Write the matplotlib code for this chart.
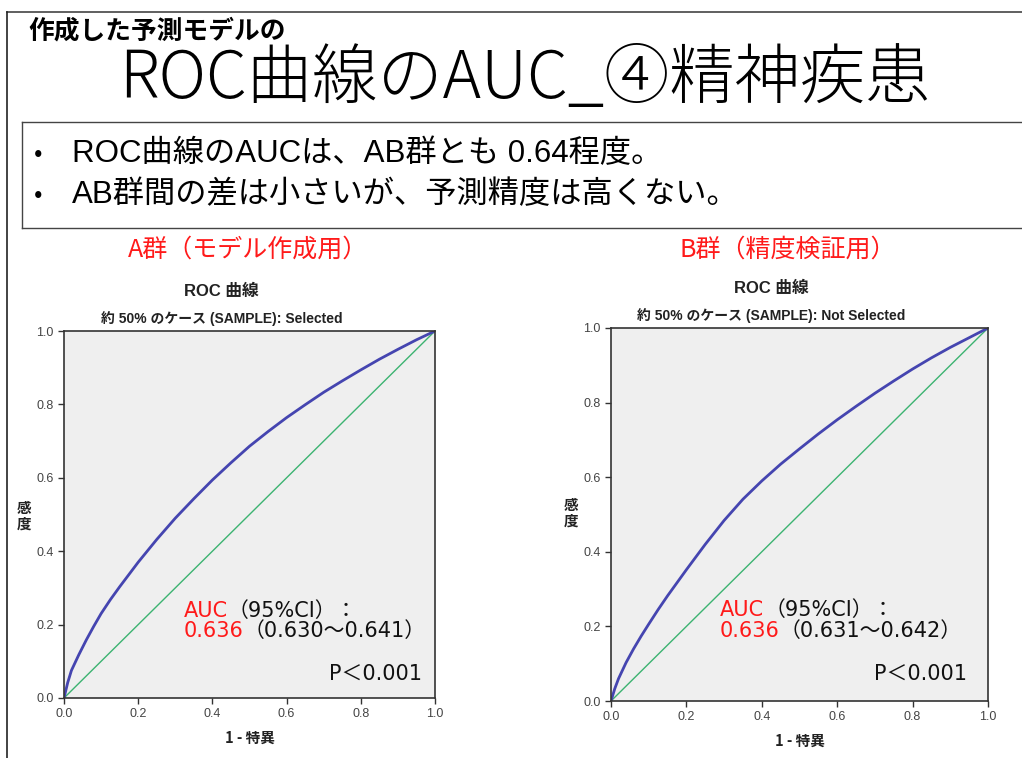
import numpy as np
import matplotlib
matplotlib.use('Agg')
from matplotlib import pyplot as plt
from matplotlib.lines import Line2D

plt.rcParams['font.family'] = ['Noto Sans CJK JP', 'DejaVu Sans']

W, H = 1022, 758

# ROC curves (1 - specificity, sensitivity)
fpr_a = [0.0, 0.01, 0.02, 0.04, 0.06, 0.08, 0.10, 0.125, 0.15, 0.20, 0.25, 0.30, 0.35,
         0.40, 0.45, 0.50, 0.55, 0.60, 0.65, 0.70, 0.75, 0.80, 0.85, 0.90, 0.95, 1.0]
tpr_a = [0.0, 0.042, 0.075, 0.118, 0.158, 0.195, 0.230, 0.268, 0.303, 0.370, 0.432, 0.490, 0.543,
         0.594, 0.641, 0.686, 0.726, 0.764, 0.799, 0.833, 0.864, 0.894, 0.923, 0.950, 0.976, 1.0]
fpr_b = [0.0, 0.01, 0.02, 0.04, 0.06, 0.08, 0.10, 0.125, 0.15, 0.20, 0.25, 0.30, 0.35,
         0.40, 0.45, 0.50, 0.55, 0.60, 0.65, 0.70, 0.75, 0.80, 0.85, 0.90, 0.95, 1.0]
tpr_b = [0.0, 0.033, 0.060, 0.103, 0.140, 0.174, 0.206, 0.245, 0.282, 0.352, 0.420, 0.484, 0.541,
         0.590, 0.635, 0.676, 0.716, 0.754, 0.790, 0.825, 0.858, 0.890, 0.920, 0.948, 0.974, 1.0]

ticks = [0.0, 0.2, 0.4, 0.6, 0.8, 1.0]
tick_labels = ['0.0', '0.2', '0.4', '0.6', '0.8', '1.0']

group_titles = ['A群（モデル作成用）', 'B群（精度検証用）']
subtitles = ['約 50% のケース (SAMPLE): Selected', '約 50% のケース (SAMPLE): Not Selected']
auc_values = ['0.636', '0.636']
ci_texts = ['（0.630～0.641）', '（0.631～0.642）']
bullets = ['ROC曲線のAUCは、AB群とも 0.64程度。', 'AB群間の差は小さいが、予測精度は高くない。']

# where the AUC notes sit inside each plot (axes fraction)
note_x = [0.323, 0.289]
note_y = [(0.221, 0.166), (0.228, 0.172)]
p_pos = [(0.965, 0.049), (0.944, 0.056)]

LATIN = ['DejaVu Sans', 'Noto Sans CJK JP']
ARIAL = ['Liberation Sans', 'Noto Sans CJK JP']


def px(x, y):
    return x / W, 1 - y / H


fig = plt.figure(figsize=(W / 100, H / 100), dpi=100)
fig.patch.set_facecolor('white')
renderer = fig.canvas.get_renderer()

# slide frame and bullet box
fig.add_artist(Line2D([7 / W, 1], [1 - 12 / H] * 2, color='#444444', lw=1.2))
fig.add_artist(Line2D([7 / W] * 2, [1 - 12 / H, 0], color='#222222', lw=1.2))
fig.add_artist(Line2D([22 / W, 1], [1 - 122 / H] * 2, color='#444444', lw=1.0))
fig.add_artist(Line2D([22 / W, 1], [1 - 228 / H] * 2, color='#444444', lw=1.0))
fig.add_artist(Line2D([22 / W] * 2, [1 - 122 / H, 1 - 228 / H], color='#444444', lw=1.0))

fig.text(*px(28, 31), '作成した予測モデルの', fontsize=18.5, fontweight='bold',
         va='center', ha='left')
fig.text(*px(525, 80), 'ROC曲線のAUC_④精神疾患', fontsize=47, fontweight='light',
         va='center', ha='center')

for i, b in enumerate(bullets):
    y = 154 + i * 41
    fig.text(*px(38, y), '•', fontsize=18, va='center', ha='center')
    fig.text(*px(72, y), b, fontsize=22.5, family=ARIAL, va='center', ha='left')

axes_pos = [(64, 331, 435, 698), (611, 328, 988, 701)]
title_x = [248, 788]
data = [(fpr_a, tpr_a), (fpr_b, tpr_b)]

for k in range(2):
    x0, y0, x1, y1 = axes_pos[k]
    ax = fig.add_axes([x0 / W, 1 - y1 / H, (x1 - x0) / W, (y1 - y0) / H])
    ax.set_facecolor('#efefef')
    fpr, tpr = data[k]
    ax.plot([0, 1], [0, 1], color='#3cb371', lw=1.0)
    ax.plot(fpr, tpr, color='#4545b0', lw=2.0)
    ax.set_xlim(0, 1)
    ax.set_ylim(0, 1)
    ax.set_xticks(ticks, tick_labels)
    ax.set_yticks(ticks, tick_labels)
    ax.tick_params(direction='out', length=4, width=1, colors='#333333',
                   labelsize=9, labelcolor='#444444')
    for lab in ax.get_xticklabels() + ax.get_yticklabels():
        lab.set_family(ARIAL)
    for s in ax.spines.values():
        s.set_color('#333333')
        s.set_linewidth(1.2)

    cx = (x0 + x1) / 2
    fig.text(*px(title_x[k], 250), group_titles[k], color='#ff1a1a', fontsize=18,
             ha='center', va='center')
    fig.text(*px(cx - 28, y0 - 40), 'ROC 曲線', fontsize=12, fontweight='bold',
             family=ARIAL, ha='center', va='center', color='#222222')
    fig.text(*px(cx - 28, y0 - 12), subtitles[k], fontsize=10, fontweight='bold',
             family=ARIAL, ha='center', va='center', color='#222222')
    fig.text(*px(x0 - 40, y0 + 185), '感\n度', fontsize=10.5, fontweight='bold',
             ha='center', va='center', linespacing=1.0, color='#222222')
    fig.text(*px(cx, y1 + 40), '1 - 特異', fontsize=10.5, fontweight='bold',
             ha='center', va='center', color='#222222')

    # AUC note: red value followed by black text on the same baseline
    lines = [('AUC', '（95%CI）：'), (auc_values[k], ci_texts[k])]
    for (red, black), yy in zip(lines, note_y[k]):
        t = ax.text(note_x[k], yy, red, color='#ff1a1a', fontsize=15, family=LATIN,
                    transform=ax.transAxes, va='baseline', ha='left')
        bb = t.get_window_extent(renderer)
        xn = ax.transAxes.inverted().transform((bb.x1, bb.y0))[0]
        ax.text(xn, yy, black, color='#111111', fontsize=15, family=LATIN,
                transform=ax.transAxes, va='baseline', ha='left')
    ax.text(p_pos[k][0], p_pos[k][1], 'P＜0.001', fontsize=15, color='#111111',
            family=LATIN, transform=ax.transAxes, va='baseline', ha='right')

fig.savefig('out.png', dpi=100)
